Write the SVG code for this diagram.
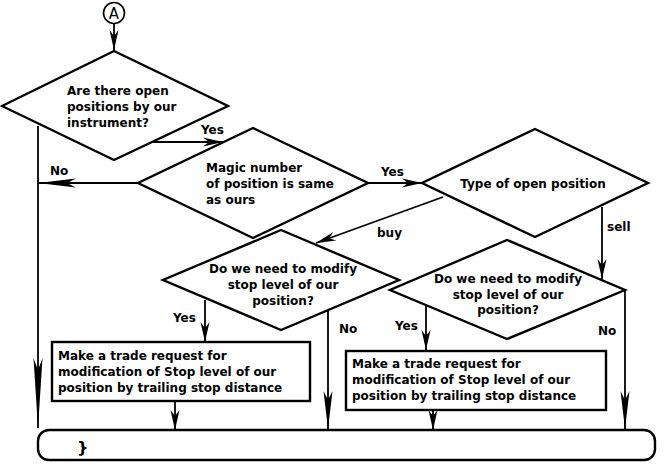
<svg xmlns="http://www.w3.org/2000/svg" width="666" height="468" viewBox="0 0 666 468">
<style>
.t{font-family:"DejaVu Sans","Verdana",sans-serif;font-weight:bold;font-size:12px;fill:#000}
.c{text-anchor:middle}
.sh{fill:#fff;stroke:#000;stroke-width:2.4}
.ln{fill:none;stroke:#000;stroke-width:1.8}
.a1{marker-end:url(#m20)}
.a2{marker-end:url(#m38)}
.a3{marker-end:url(#m70)}
</style>
<defs>
<marker id="m20" markerUnits="userSpaceOnUse" markerWidth="22" markerHeight="10" refX="20" refY="4.5" orient="auto" overflow="visible"><path d="M0,0 L20,4.5 L0,9 L6,4.5 Z" fill="#000"/></marker>
<marker id="m38" markerUnits="userSpaceOnUse" markerWidth="40" markerHeight="10" refX="38" refY="4.5" orient="auto" overflow="visible"><path d="M0,0 L38,4.5 L0,9 L9,4.5 Z" fill="#000"/></marker>
<marker id="m70" markerUnits="userSpaceOnUse" markerWidth="72" markerHeight="10" refX="70" refY="4.5" orient="auto" overflow="visible"><path d="M0,0 L70,4.5 L0,9 L12,4.5 Z" fill="#000"/></marker>
</defs>
<rect width="666" height="468" fill="#fff"/>
<g id="connectors">
<line class="ln a1" x1="114" y1="23" x2="114" y2="50"/>
<line class="ln a3" x1="38" y1="126" x2="38" y2="428"/>
<line class="ln a1" x1="153" y1="142" x2="223" y2="142"/>
<line class="ln a2" x1="138" y1="183" x2="38" y2="183"/>
<line class="ln a1" x1="368" y1="183" x2="422" y2="183"/>
<line class="ln a1" x1="443" y1="197" x2="316" y2="243"/>
<line class="ln a1" x1="602" y1="207" x2="602" y2="279"/>
<line class="ln a1" x1="205" y1="300" x2="205" y2="342"/>
<line class="ln a2" x1="328" y1="310" x2="328" y2="429"/>
<line class="ln a1" x1="426" y1="305" x2="426" y2="350"/>
<line class="ln a2" x1="625" y1="290" x2="625" y2="429"/>
<line class="ln a1" x1="175" y1="401" x2="175" y2="430"/>
<line class="ln a1" x1="433" y1="410" x2="433" y2="430"/>
<text class="t" x="201" y="134">Yes</text>
<text class="t" x="50" y="175">No</text>
<text class="t" x="381" y="176">Yes</text>
<text class="t" x="377" y="237">buy</text>
<text class="t" x="607" y="231">sell</text>
<text class="t" x="173" y="322">Yes</text>
<text class="t" x="339" y="333">No</text>
<text class="t" x="395" y="330">Yes</text>
<text class="t" x="598" y="335">No</text>
</g>
<g id="start">
<circle cx="114" cy="13" r="10.5" fill="#fff" stroke="#000" stroke-width="1.6"/>
<text class="t c" x="114" y="18.5" style="font-weight:normal;font-size:15px">A</text>
</g>
<g id="q-open">
<polygon class="sh" points="114,51 228,106 114,160 2,106"/>
<text class="t" x="67" y="95">Are there open</text>
<text class="t" x="67" y="111">positions by our</text>
<text class="t" x="67" y="127">instrument?</text>
</g>
<g id="q-magic">
<polygon class="sh" points="253,128 368,183 253,238 138,183"/>
<text class="t" x="206" y="172">Magic number</text>
<text class="t" x="206" y="188">of position is same</text>
<text class="t" x="206" y="204">as ours</text>
</g>
<g id="q-type">
<polygon class="sh" points="535,129 648,183 535,237 422,183"/>
<text class="t c" x="533" y="188">Type of open position</text>
</g>
<g id="q-modify-buy">
<polygon class="sh" points="281,230 399,280 281,330 163,280"/>
<text class="t c" x="283" y="273">Do we need to modify</text>
<text class="t c" x="283" y="289">stop level of our</text>
<text class="t c" x="283" y="305">position?</text>
</g>
<g id="q-modify-sell">
<polygon class="sh" points="507,240 625,290 507,339 390,290"/>
<text class="t c" x="508" y="283">Do we need to modify</text>
<text class="t c" x="508" y="299">stop level of our</text>
<text class="t c" x="508" y="314">position?</text>
</g>
<g id="act-buy">
<rect class="sh" x="52" y="342" width="258" height="59" stroke-width="2"/>
<text class="t" x="58" y="360">Make a trade request for</text>
<text class="t" x="58" y="376">modification of Stop level of our</text>
<text class="t" x="58" y="392">position by trailing stop distance</text>
</g>
<g id="act-sell">
<rect class="sh" x="346" y="351" width="260" height="59" stroke-width="2"/>
<text class="t" x="352" y="368">Make a trade request for</text>
<text class="t" x="352" y="384">modification of Stop level of our</text>
<text class="t" x="352" y="400">position by trailing stop distance</text>
</g>
<g id="end">
<rect class="sh" x="38" y="430" width="617" height="30" rx="11" stroke-width="2"/>
<text class="t" x="77" y="453" style="font-size:16px">}</text>
</g>
</svg>
